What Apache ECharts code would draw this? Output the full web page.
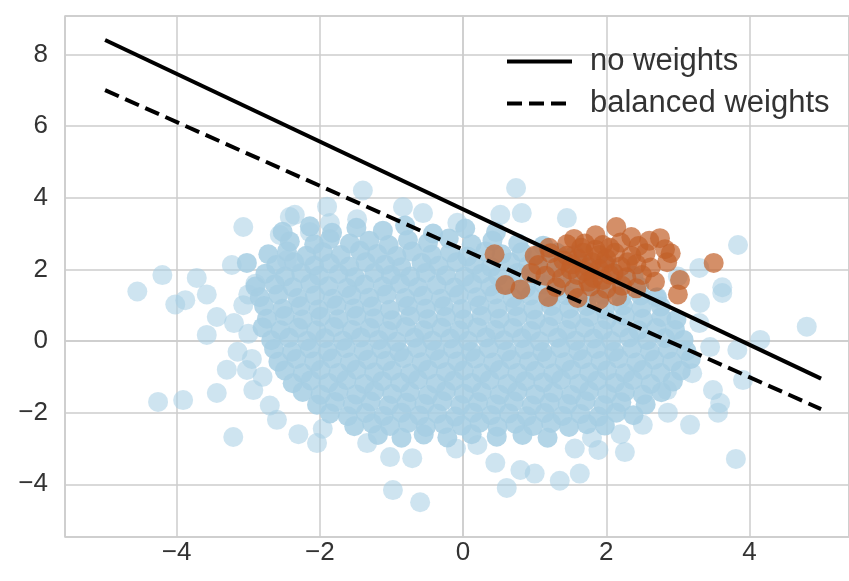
<!DOCTYPE html>
<html>
<head>
<meta charset="utf-8">
<script src="https://cdn.jsdelivr.net/npm/echarts@6/dist/echarts.min.js"></script>
<style>
  html, body { margin: 0; padding: 0; background: #fff; }
  #chart { width: 849px; height: 581px; }
</style>
</head>
<body>
<div id="chart"></div>
<script>
// separating lines, read at the two ends of the plotted range
const lineX = [-5, 5];
const noWeightsY = [8.4, -1.05];
const balancedY = [7.0, -1.9];

// class 0 (majority) - scattered points at the rim of the cloud
const blueOuter = [
  [-4.55,1.38],[-4.2,1.84],[-4.02,1.02],[-3.88,1.14],[-3.72,1.76],[-3.58,1.3],[-3.44,0.67],[-3.58,0.17],
  [-3.07,1.0],[-3.3,-0.8],[-3.02,-0.81],[-3.44,-1.45],[-4.26,-1.7],[-3.91,-1.65],[-2.93,-1.37],[-3.21,-2.68],
  [-3.07,3.18],[-3.23,2.12],[-2.56,2.96],[-2.42,3.46],[-2.46,2.26],[-3.2,0.5],[-3.0,0.2],[-3.15,-0.3],
  [-2.9,1.6],[-3.0,1.3],[-2.95,-0.5],[-2.8,-1.0],[-2.7,-1.8],[-2.6,-2.2],[-2.3,-2.6],[-2.04,-2.85],
  [-1.96,-2.45],[-1.34,-2.85],[-1.02,-3.24],[-0.71,-3.27],[-0.98,-4.16],[-0.6,-4.5],[0.45,-3.4],[0.61,-4.1],
  [0.8,-3.6],[1.0,-3.7],[1.35,-3.9],[1.63,-3.7],[1.56,-3.0],[1.89,-3.04],[2.26,-3.1],[2.51,-2.34],
  [2.86,-2.0],[2.2,-2.6],[1.8,-2.7],[-0.1,-3.0],[0.2,-2.9],
  [-1.4,4.2],[-0.84,3.74],[-0.56,3.57],[-2.35,3.52],[-2.14,3.04],[-1.86,3.29],[-1.48,3.4],[-0.08,3.3],
  [0.74,4.27],[0.82,3.57],[0.52,3.52],[1.45,3.43],[-1.9,3.75],
  [4.8,0.4],[3.62,1.34],[3.31,1.06],[4.15,0.03],[3.83,-0.25],[3.45,-0.17],[3.91,-1.09],[3.49,-1.37],
  [2.85,-1.37],[3.59,-1.73],[3.84,2.68],[3.3,2.04],[3.81,-3.29],[3.17,-2.34],[3.56,-2.0],[3.3,0.5],
  [3.2,-0.9],[3.0,1.8],[2.7,1.2],[3.62,1.5]
];

// class 0 - dense body of the cloud
const blueCore = [
  [-2.52,3.05],[-2.14,3.2],[-1.83,3.02],[-1.49,3.16],[-1.12,3.08],[-0.81,3.22],[-0.42,3.0],[0.03,3.14],[0.46,3.04],
  [-2.42,2.78],[-2.08,2.7],[-1.86,2.84],[-1.58,2.72],[-1.31,2.8],[-1.04,2.68],[-0.77,2.82],[-0.49,2.74],[-0.2,2.86],
  [0.12,2.7],[0.41,2.8],[0.77,2.72],[1.12,2.66],
  [-2.72,2.42],[-2.46,2.5],[-2.19,2.38],[-1.96,2.48],[-1.71,2.4],[-1.44,2.52],[-1.2,2.43],[-0.93,2.37],[-0.71,2.5],
  [-0.44,2.41],[-0.18,2.47],[0.06,2.36],[0.31,2.5],[0.54,2.42],[0.82,2.48],[1.04,2.38],[1.31,2.46],[1.56,2.4],
  [-3.02,2.18],[-2.61,2.12],[-2.36,2.2],[-2.08,2.1],[-1.86,2.16],[-1.59,2.08],[-1.36,2.2],[-1.09,2.13],[-0.86,2.06],
  [-0.58,2.18],[-0.34,2.1],[-0.09,2.2],[0.16,2.12],[0.39,2.06],[0.66,2.19],[0.91,2.1],[1.16,2.17],[1.42,2.08],
  [1.71,2.15],[2.02,2.1],
  [-2.76,1.88],[-2.49,1.8],[-2.26,1.9],[-2.01,1.82],[-1.74,1.87],[-1.51,1.78],[-1.24,1.9],[-1.01,1.84],[-0.74,1.8],
  [-0.52,1.9],[-0.24,1.83],[0.02,1.79],[0.26,1.88],[0.49,1.81],[0.76,1.9],[1.01,1.83],[1.24,1.77],[1.52,1.86],
  [1.79,1.8],[2.11,1.88],[2.38,1.82],
  [-2.9,1.52],[-2.63,1.58],[-2.38,1.5],[-2.13,1.6],[-1.88,1.53],[-1.62,1.48],[-1.38,1.58],[-1.12,1.52],[-0.88,1.6],
  [-0.63,1.5],[-0.37,1.56],[-0.12,1.49],[0.13,1.6],[0.38,1.52],[0.62,1.57],[0.88,1.48],[1.13,1.58],[1.37,1.5],
  [1.63,1.56],[1.88,1.48],[2.14,1.58],[2.46,1.52],
  [-2.84,1.22],[-2.58,1.3],[-2.31,1.2],[-2.07,1.27],[-1.82,1.18],[-1.56,1.28],[-1.31,1.21],[-1.07,1.3],[-0.81,1.2],
  [-0.56,1.26],[-0.31,1.18],[-0.06,1.29],[0.19,1.22],[0.44,1.3],[0.69,1.2],[0.94,1.27],[1.19,1.19],[1.44,1.28],
  [1.69,1.22],[1.94,1.3],[2.21,1.2],[2.48,1.27],[2.71,1.22],
  [-2.78,0.98],[-2.52,0.9],[-2.27,0.97],[-2.02,0.88],[-1.77,0.99],[-1.52,0.91],[-1.27,0.96],[-1.02,0.87],[-0.77,0.98],
  [-0.52,0.9],[-0.27,0.97],[-0.02,0.89],[0.23,0.99],[0.48,0.91],[0.73,0.97],[0.98,0.88],[1.23,0.98],[1.48,0.9],
  [1.73,0.97],[1.98,0.88],[2.23,0.99],[2.49,0.92],[2.76,0.96],
  [-2.74,0.62],[-2.49,0.7],[-2.24,0.6],[-1.99,0.68],[-1.74,0.61],[-1.49,0.7],[-1.24,0.63],[-0.99,0.58],[-0.74,0.69],
  [-0.49,0.61],[-0.24,0.67],[0.01,0.6],[0.26,0.7],[0.51,0.62],[0.76,0.68],[1.01,0.59],[1.26,0.69],[1.51,0.61],
  [1.76,0.67],[2.01,0.6],[2.26,0.7],[2.51,0.62],[2.77,0.67],[2.98,0.6],
  [-2.8,0.38],[-2.55,0.3],[-2.3,0.37],[-2.05,0.29],[-1.8,0.39],[-1.55,0.31],[-1.3,0.36],[-1.05,0.28],[-0.8,0.39],
  [-0.55,0.3],[-0.3,0.37],[-0.05,0.29],[0.2,0.38],[0.45,0.31],[0.7,0.36],[0.95,0.28],[1.2,0.39],[1.45,0.31],
  [1.7,0.37],[1.95,0.3],[2.2,0.38],[2.45,0.3],[2.7,0.36],[2.96,0.31],
  [-2.68,0.02],[-2.43,0.09],[-2.18,0.0],[-1.93,0.08],[-1.68,0.01],[-1.43,0.1],[-1.18,0.03],[-0.93,-0.02],[-0.68,0.09],
  [-0.43,0.01],[-0.18,0.07],[0.07,0.0],[0.32,0.1],[0.57,0.02],[0.82,0.08],[1.07,-0.01],[1.32,0.09],[1.57,0.01],
  [1.82,0.07],[2.07,0.0],[2.32,0.1],[2.57,0.02],[2.82,0.08],[3.08,0.03],
  [-2.64,-0.22],[-2.39,-0.3],[-2.14,-0.21],[-1.89,-0.29],[-1.64,-0.2],[-1.39,-0.28],[-1.14,-0.23],[-0.89,-0.31],
  [-0.64,-0.2],[-0.39,-0.27],[-0.14,-0.22],[0.11,-0.3],[0.36,-0.21],[0.61,-0.29],[0.86,-0.24],[1.11,-0.31],
  [1.36,-0.2],[1.61,-0.28],[1.86,-0.22],[2.11,-0.3],[2.36,-0.21],[2.61,-0.29],[2.86,-0.23],[3.12,-0.28],
  [-2.58,-0.58],[-2.33,-0.5],[-2.08,-0.57],[-1.83,-0.49],[-1.58,-0.6],[-1.33,-0.52],[-1.08,-0.56],[-0.83,-0.48],
  [-0.58,-0.59],[-0.33,-0.51],[-0.08,-0.57],[0.17,-0.49],[0.42,-0.6],[0.67,-0.52],[0.92,-0.57],[1.17,-0.5],
  [1.42,-0.59],[1.67,-0.51],[1.92,-0.56],[2.17,-0.49],[2.42,-0.6],[2.67,-0.52],[2.92,-0.58],[3.18,-0.5],
  [-2.49,-0.82],[-2.24,-0.9],[-1.99,-0.81],[-1.74,-0.89],[-1.49,-0.8],[-1.24,-0.88],[-0.99,-0.83],[-0.74,-0.91],
  [-0.49,-0.8],[-0.24,-0.87],[0.01,-0.82],[0.26,-0.9],[0.51,-0.81],[0.76,-0.89],[1.01,-0.84],[1.26,-0.91],
  [1.51,-0.8],[1.76,-0.88],[2.01,-0.82],[2.26,-0.9],[2.51,-0.81],[2.76,-0.89],[3.04,-0.83],
  [-2.38,-1.18],[-2.13,-1.1],[-1.88,-1.17],[-1.63,-1.09],[-1.38,-1.2],[-1.13,-1.12],[-0.88,-1.16],[-0.63,-1.08],
  [-0.38,-1.19],[-0.13,-1.11],[0.12,-1.17],[0.37,-1.09],[0.62,-1.2],[0.87,-1.12],[1.12,-1.16],[1.37,-1.08],
  [1.62,-1.19],[1.87,-1.11],[2.12,-1.17],[2.37,-1.09],[2.62,-1.2],[2.93,-1.13],
  [-2.24,-1.42],[-1.99,-1.5],[-1.74,-1.41],[-1.49,-1.49],[-1.24,-1.4],[-0.99,-1.48],[-0.74,-1.43],[-0.49,-1.51],
  [-0.24,-1.4],[0.01,-1.47],[0.26,-1.42],[0.51,-1.5],[0.76,-1.41],[1.01,-1.49],[1.26,-1.44],[1.51,-1.51],
  [1.76,-1.4],[2.01,-1.48],[2.26,-1.42],[2.51,-1.5],[2.77,-1.43],
  [-2.04,-1.78],[-1.79,-1.7],[-1.54,-1.77],[-1.29,-1.69],[-1.04,-1.8],[-0.79,-1.72],[-0.54,-1.76],[-0.29,-1.68],
  [-0.04,-1.79],[0.21,-1.71],[0.46,-1.77],[0.71,-1.69],[0.96,-1.8],[1.21,-1.72],[1.46,-1.76],[1.71,-1.68],
  [1.96,-1.79],[2.21,-1.71],[2.55,-1.77],
  [-1.86,-2.02],[-1.61,-2.1],[-1.36,-2.01],[-1.11,-2.09],[-0.86,-2.0],[-0.61,-2.08],[-0.36,-2.03],[-0.11,-2.11],
  [0.14,-2.0],[0.39,-2.07],[0.64,-2.02],[0.89,-2.1],[1.14,-2.01],[1.39,-2.09],[1.64,-2.04],[1.89,-2.11],
  [2.14,-2.0],[2.38,-2.07],
  [-1.52,-2.38],[-1.27,-2.3],[-1.02,-2.37],[-0.77,-2.29],[-0.52,-2.4],[-0.27,-2.32],[-0.02,-2.36],[0.23,-2.28],
  [0.48,-2.39],[0.73,-2.31],[0.98,-2.37],[1.23,-2.29],[1.48,-2.4],[1.73,-2.32],[1.98,-2.36],
  [-1.19,-2.62],[-0.86,-2.7],[-0.55,-2.61],[-0.22,-2.69],[0.12,-2.6],[0.47,-2.67],[0.83,-2.62],[1.18,-2.7]
];

// class 1 (minority) - the orange blob upper right
const orangePoints = [
  [2.14,3.18],[1.85,2.95],[2.35,2.9],[1.55,2.85],
  [1.2,2.6],[1.45,2.7],[1.7,2.72],[1.95,2.68],[2.2,2.75],[2.45,2.65],[2.6,2.8],
  [1.0,2.38],[1.22,2.45],[1.45,2.38],[1.68,2.46],[1.9,2.4],[2.12,2.46],[2.35,2.38],[2.55,2.45],
  [1.05,2.12],[1.3,2.05],[1.52,2.14],[1.75,2.06],[1.98,2.15],[2.2,2.08],[2.42,2.14],[2.62,2.05],
  [1.15,1.82],[1.38,1.75],[1.6,1.84],[1.82,1.76],[2.05,1.85],[2.28,1.78],[2.5,1.84],
  [1.3,1.5],[1.55,1.45],[1.78,1.52],[2.0,1.46],[2.22,1.54],[2.42,1.47],
  [1.6,1.2],[1.9,1.15],[2.15,1.25],
  [1.6,2.3],[1.8,2.2],[2.0,2.3],[1.7,1.95],[1.9,2.0],[2.1,1.9],[1.5,2.0],[2.3,2.2],[1.4,2.25],
  [1.85,2.55],[2.05,2.6],[1.65,2.6],[1.75,1.65],[1.95,1.7],
  [0.44,2.42],[0.59,1.56],[0.8,1.44],[1.19,1.23],[2.75,2.87],[2.82,2.56],[2.85,2.2],[2.68,1.65],
  [3.0,1.3],[3.5,2.18],[3.03,1.7],[2.9,2.45],[0.95,1.9]
];

function minusSign(v) {
  return String(v).replace('-', '\u2212');
}

let chart = echarts.init(document.getElementById('chart'));

let option = {
  backgroundColor: '#fff',
  animation: false,
  textStyle: { fontFamily: 'Liberation Sans, Arial, sans-serif' },
  grid: {
    left: 65,
    right: 0,
    top: 16,
    bottom: 44,
    show: true,
    borderColor: '#cccccc',
    borderWidth: 1.5
  },
  legend: {
    data: ['no weights', 'balanced weights'],
    orient: 'vertical',
    left: 500,
    top: 41,
    itemWidth: 65,
    itemHeight: 14,
    itemGap: 11,
    itemStyle: { opacity: 0 },
    lineStyle: { width: 4 },
    textStyle: { fontSize: 31, color: '#333', fontFamily: 'Liberation Sans, Arial, sans-serif', padding: [0, 0, 0, 13] }
  },
  xAxis: {
    type: 'value',
    min: -5.56,
    max: 5.39,
    splitNumber: 5,
    axisLine: { show: true, lineStyle: { color: '#cccccc', width: 1.5 } },
    axisTick: { show: false },
    axisLabel: {
      fontSize: 26,
      color: '#333',
      margin: 3,
      showMinLabel: false,
      showMaxLabel: false,
      formatter: minusSign
    },
    splitLine: { show: true, lineStyle: { color: '#cccccc', width: 1.5 } }
  },
  yAxis: {
    type: 'value',
    min: -5.47,
    max: 9.07,
    splitNumber: 7,
    axisLine: { show: true, lineStyle: { color: '#cccccc', width: 1.5 } },
    axisTick: { show: false },
    axisLabel: {
      fontSize: 26,
      color: '#333',
      margin: 17,
      showMinLabel: false,
      showMaxLabel: false,
      formatter: minusSign
    },
    splitLine: { show: true, lineStyle: { color: '#cccccc', width: 1.5 } }
  },
  series: [
    {
      name: 'class 0',
      type: 'scatter',
      symbolSize: 20,
      itemStyle: { color: '#a6cee3', opacity: 0.55 },
      data: blueOuter
    },
    {
      name: 'class 0',
      type: 'scatter',
      symbolSize: 20,
      itemStyle: { color: '#a6cee3', opacity: 0.85 },
      data: blueCore
    },
    {
      name: 'class 1',
      type: 'scatter',
      symbolSize: 20,
      itemStyle: { color: '#c25f28', opacity: 0.7 },
      data: orangePoints
    },
    {
      name: 'no weights',
      type: 'line',
      symbol: 'none',
      itemStyle: { color: '#000' },
      lineStyle: { color: '#000', width: 4 },
      data: lineX.map((x, i) => [x, noWeightsY[i]])
    },
    {
      name: 'balanced weights',
      type: 'line',
      symbol: 'none',
      itemStyle: { color: '#000' },
      lineStyle: { color: '#000', width: 4, type: [15, 7] },
      data: lineX.map((x, i) => [x, balancedY[i]])
    }
  ]
};

chart.setOption(option);
</script>
</body>
</html>
